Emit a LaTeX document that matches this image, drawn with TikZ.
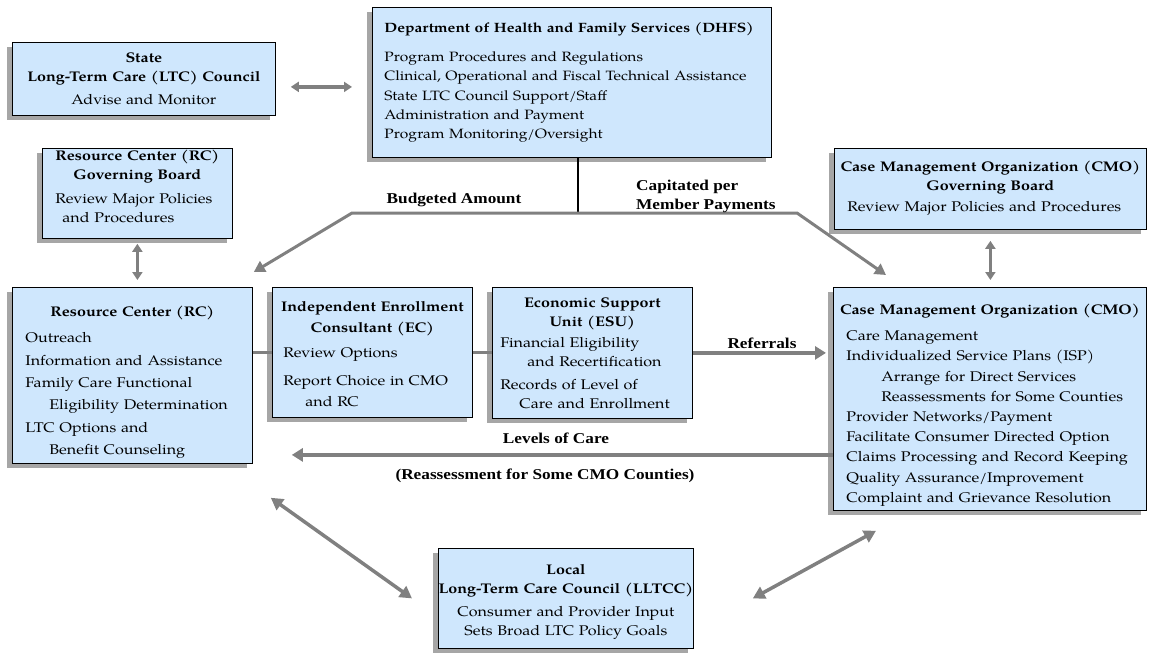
\documentclass[tikz,border=0pt]{standalone}
\usepackage{fontspec}
\setmainfont{texgyrepagella}[Extension=.otf, UprightFont=*-regular, BoldFont=*-bold,
  ItalicFont=*-italic, BoldItalicFont=*-bolditalic, FakeStretch=1.15]
\newfontfamily\labelfont{Liberation Serif}[FakeStretch=1.15]
\usetikzlibrary{arrows.meta,shadows}

\definecolor{boxblue}{RGB}{207,231,253}
\definecolor{shadowgray}{RGB}{166,166,166}
\definecolor{arrowgray}{RGB}{128,128,128}
\setlength{\parindent}{0pt}
\hyphenpenalty=10000

\newcommand{\boxhead}[1]{\makebox[\hsize]{\bfseries #1}}
\newcommand{\boxline}[1]{\makebox[\hsize]{#1}}

\tikzset{
  box/.style={draw=black, line width=0.8pt, fill=boxblue, anchor=north west,
    drop shadow={shadow xshift=-5pt, shadow yshift=-5pt, fill=shadowgray, opacity=1},
    inner xsep=13pt, inner ysep=0pt, align=left,
    font=\fontsize{14}{19}\selectfont},
  link/.style={draw=arrowgray, line width=3.5pt},
  oneway/.style={link, -{Triangle[length=11pt,width=13pt]}},
  twoway/.style={link, {Triangle[length=8pt,width=10pt]}-{Triangle[length=8pt,width=10pt]}},
  bigtwoway/.style={link, {Triangle[length=12pt,width=13pt]}-{Triangle[length=12pt,width=13pt]}},
  flowlabel/.style={font=\labelfont\bfseries\fontsize{15}{19}\selectfont, inner sep=0pt}
}

\begin{document}
\begin{tikzpicture}[x=1pt,y=-1pt]
\useasboundingbox (0,0) rectangle (1154,664);

% boxes
\node[box, text width=237pt, minimum height=73pt] (state) at (12,42)
  {\boxhead{State}\\ \boxhead{Long-Term Care (LTC) Council}\\[4pt] \boxline{Advise and Monitor}};
\node[box, text width=375pt, inner xsep=12pt, minimum height=150pt, font=\fontsize{13.5}{19.2}\selectfont] (dhfs) at (372,7)
  {\textbf{Department of Health and Family Services (DHFS)}\\[10pt]
   Program Procedures and Regulations\\
   Clinical, Operational and Fiscal Technical Assistance\\
   State LTC Council Support/Staff\\
   Administration and Payment\\
   Program Monitoring/Oversight};
\node[box, text width=164pt, minimum height=90pt] (rcgb) at (42,148)
  {\boxhead{Resource Center (RC)}\\ \boxhead{Governing Board}\\[5pt]
   Review Major Policies\\ \hspace*{7pt}and Procedures\rule[-14pt]{0pt}{1pt}};
\node[box, text width=286pt, minimum height=81pt] (cmogb) at (834,148)
  {\boxhead{Case Management Organization (CMO)}\\ \boxhead{Governing Board}\\[2pt]
   Review Major Policies and Procedures\rule[-6pt]{0pt}{1pt}};
\node[box, text width=214pt, minimum height=176pt, font=\fontsize{14}{22.4}\selectfont] (rc) at (12,287)
  {\boxhead{\rule{0pt}{24pt}Resource Center (RC)}\\[4pt]
   Outreach\\
   Information and Assistance\\
   Family Care Functional\\
   \hspace*{24pt}Eligibility Determination\\
   LTC Options and\\
   \hspace*{24pt}Benefit Counseling};
\node[box, text width=184pt, inner xsep=8pt, minimum height=130pt, font=\fontsize{14}{21}\selectfont] (ec) at (272,287)
  {\boxhead{\rule{0pt}{14pt}Independent Enrollment}\\ \boxhead{Consultant (EC)}\\[4pt]
   \hspace*{3pt}Review Options\\[7pt]
   \hspace*{3pt}Report Choice in CMO\\
   \hspace*{25pt}and RC};
\node[box, text width=184pt, inner xsep=8pt, minimum height=131pt] (esu) at (492,287)
  {\boxhead{Economic Support}\\ \boxhead{Unit (ESU)}\\[2pt]
   Financial Eligibility\\
   \hspace*{27pt}and Recertification\\[4pt]
   Records of Level of\\
   \hspace*{19pt}Care and Enrollment};
\node[box, text width=287pt, minimum height=223pt, font=\fontsize{14}{20.2}\selectfont] (cmo) at (833,287)
  {\boxhead{\rule{0pt}{23pt}Case Management Organization (CMO)}\\[6pt]
   Care Management\\
   Individualized Service Plans (ISP)\\
   \hspace*{35pt}Arrange for Direct Services\\
   \hspace*{35pt}Reassessments for Some Counties\\
   Provider Networks/Payment\\
   Facilitate Consumer Directed Option\\
   Claims Processing and Record Keeping\\
   Quality Assurance/Improvement\\
   Complaint and Grievance Resolution};
\node[box, text width=229pt, minimum height=100pt] (lltcc) at (438,548)
  {\boxhead{\rule{0pt}{17pt}Local}\\ \boxhead{Long-Term Care Council (LLTCC)}\\[4pt]
   \boxline{Consumer and Provider Input}\\ \boxline{Sets Broad LTC Policy Goals}};

% connectors
\draw[twoway, shorten <=15pt, shorten >=20pt] ([yshift=-8pt]state.east) -- ([yshift=-8pt]state.east -| dhfs.west);
\coordinate (split) at (578,213);
\coordinate (budgetL) at (352,213);
\coordinate (budgetR) at (797,213);
\draw[black, line width=2pt] (split |- dhfs.south) -- (split);
\draw[link, line width=3pt, line join=miter, {Triangle[length=11pt,width=12pt]}-{Triangle[length=11pt,width=12pt]}]
  ([xshift=1pt,yshift=15pt]rc.north east) -- (budgetL) -- (budgetR) -- ([xshift=53pt,yshift=12pt]cmo.north west);
\draw[twoway, shorten <=5pt, shorten >=7pt] (rcgb.south) -- (rcgb.south |- rc.north);
\draw[twoway, shorten <=11pt, shorten >=7pt] (cmogb.south) -- (cmogb.south |- cmo.north);
\draw[link] (ec.west -| rc.east) -- (ec.west);
\draw[link] (ec.east) -- (ec.east -| esu.west);
\draw[oneway, shorten >=7pt] (esu.east) -- (esu.east -| cmo.west);
\draw[oneway, shorten >=39pt] ([yshift=-56pt]cmo.west) -- ([yshift=-56pt]cmo.west -| rc.east);
\draw[bigtwoway] ([xshift=18pt,yshift=-34pt]rc.south east) -- ([xshift=-26pt]lltcc.west);
\draw[bigtwoway] ([xshift=59pt]lltcc.east) -- ([xshift=43pt,yshift=-20pt]cmo.south west);

% labels
\node[flowlabel] (budget) at (454,200) {Budgeted Amount};
\node[flowlabel, anchor=west, align=left] (capitated) at (636,196) {Capitated per\\Member Payments};
\node[flowlabel] (referrals) at (762,343) {Referrals};
\node[flowlabel] (levels) at (556,438) {Levels of Care};
\node[flowlabel] (reassess) at (545,476) {(Reassessment for Some CMO Counties)};
\end{tikzpicture}
\end{document}
